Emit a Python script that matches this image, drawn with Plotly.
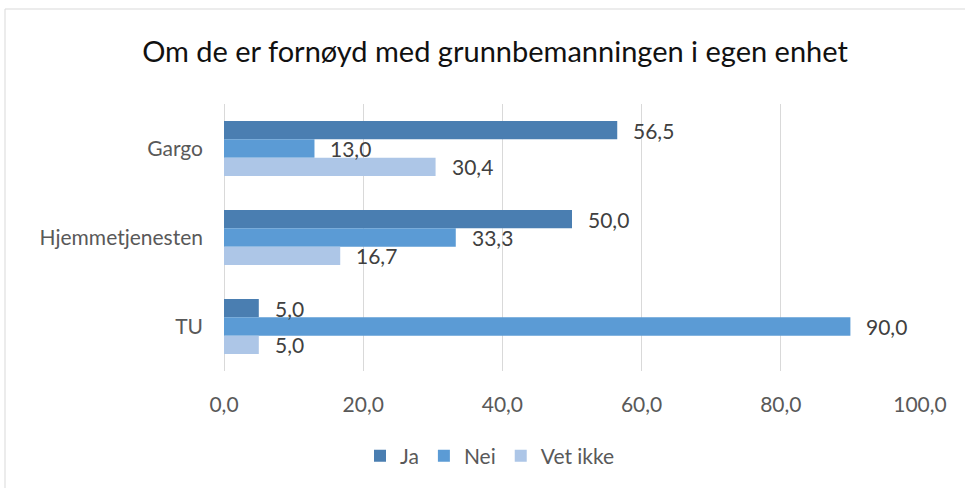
import plotly.graph_objects as go

# Survey answers (percent) per unit
units = ["Gargo", "Hjemmetjenesten", "TU"]
ja = [56.5, 50.0, 5.0]
nei = [13.0, 33.3, 90.0]
vet_ikke = [30.4, 16.7, 5.0]

series_names = ["Ja", "Nei", "Vet ikke"]
series_values = [ja, nei, vet_ikke]
series_colors = ["#4a7eb1", "#5b9bd5", "#adc6e7"]

x_ticks = [0, 20, 40, 60, 80, 100]

W, H = 965, 488
M_L, M_R, M_T, M_B = 224, 45, 104, 117
FONT = "Lato, 'Noto Sans', sans-serif"
BARGAP = 0.38

plot_w = W - M_L - M_R
plot_h = H - M_T - M_B
band_px = plot_h / len(units)
bar_px = band_px * (1 - BARGAP) / len(series_names)

fig = go.Figure()
for name, vals, col in zip(series_names, series_values, series_colors):
    fig.add_trace(go.Bar(
        name=name, y=units, x=vals, orientation="h",
        marker=dict(color=col, line=dict(width=0)),
        hoverinfo="skip",
    ))

# value labels just past the end of each bar
annotations = []
n = len(series_names)
for i, vals in enumerate(series_values):
    shift = ((n - 1) / 2 - i) * bar_px
    for u, v in zip(units, vals):
        annotations.append(dict(
            x=v, y=u, xref="x", yref="y",
            text=f"{v:.1f}".replace(".", ","),
            showarrow=False, xanchor="left", yanchor="middle",
            xshift=14, yshift=shift,
            font=dict(family=FONT, size=21, color="#404040"),
        ))

# chart frame
px2x = lambda p: (p - M_L) / plot_w
px2y = lambda p: (H - M_B - p) / plot_h
shapes = [dict(
    type="rect", xref="paper", yref="paper",
    x0=px2x(5), x1=px2x(W + 5), y0=px2y(H + 5), y1=px2y(9),
    line=dict(color="#d9d9d9", width=1), fillcolor="rgba(0,0,0,0)", layer="below",
)]

fig.update_layout(
    width=W, height=H,
    margin=dict(l=M_L, r=M_R, t=M_T, b=M_B),
    paper_bgcolor="white", plot_bgcolor="white",
    barmode="group", bargap=BARGAP, bargroupgap=0,
    separators=", ",
    title=dict(
        text="Om de er fornøyd med grunnbemanningen i egen enhet",
        xref="container", yref="container", x=495 / W, y=1 - 52 / H,
        xanchor="center", yanchor="middle",
        font=dict(family=FONT, size=29, color="#111111"),
    ),
    xaxis=dict(
        range=[0, 100], tickvals=x_ticks, tickformat=".1f",
        showgrid=True, gridcolor="#d9d9d9", gridwidth=1,
        zeroline=True, zerolinecolor="#d9d9d9", zerolinewidth=1,
        showline=False, ticks="", ticklabelstandoff=19,
        tickfont=dict(family=FONT, size=21, color="#595959"),
        fixedrange=True,
    ),
    yaxis=dict(
        autorange="reversed", showgrid=False, zeroline=False,
        showline=False, ticks="", ticklabelstandoff=20,
        tickfont=dict(family=FONT, size=21, color="#595959"),
        fixedrange=True,
    ),
    legend=dict(
        orientation="h", xref="paper", yref="paper",
        x=px2x(490), y=px2y(456), xanchor="center", yanchor="middle",
        itemwidth=30, traceorder="normal",
        font=dict(family=FONT, size=21, color="#595959"),
    ),
    annotations=annotations,
    shapes=shapes,
    showlegend=True,
)

fig.write_html("out.html")
